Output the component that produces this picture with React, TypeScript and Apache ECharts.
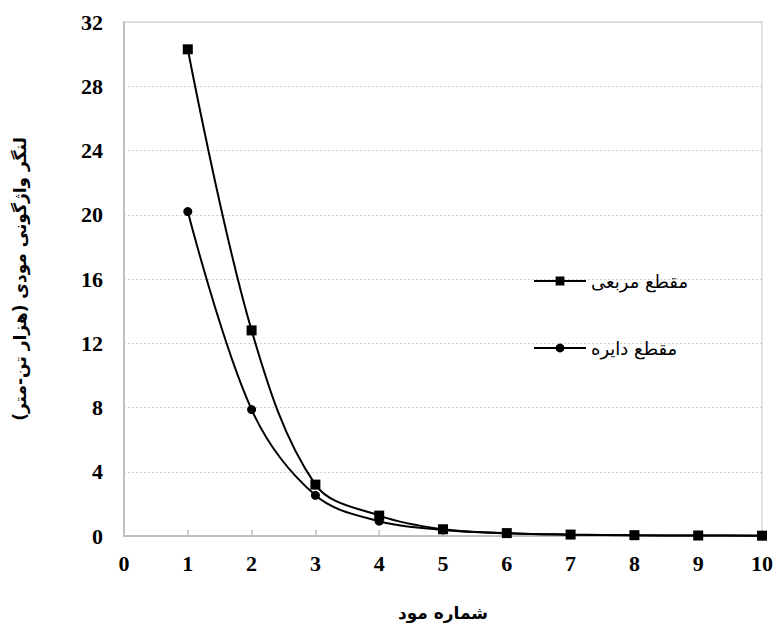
import React, { useEffect, useRef } from "react";
import * as echarts from "echarts";

const modes = [1, 2, 3, 4, 5, 6, 7, 8, 9, 10];
const squareValues = [30.3, 12.8, 3.2, 1.27, 0.42, 0.18, 0.09, 0.05, 0.03, 0.02];
const circleValues = [20.2, 7.87, 2.53, 0.92, 0.38, 0.17, 0.08, 0.05, 0.03, 0.02];
const squareName = "مقطع مربعی";
const circleName = "مقطع دایره";
const xTitle = "شماره مود";
const yTitle = "لنگر واژگونی مودی (هزار تن-متر)";

const serif = "Liberation Serif";
const arabic = "DejaVu Sans";

export default function App() {
  const ref = useRef<HTMLDivElement>(null);
  useEffect(() => {
    if (!ref.current) return;
    const chart = echarts.init(ref.current, null, { renderer: "svg" });
    chart.setOption({
      animation: false,
      backgroundColor: "#ffffff",
      grid: { left: 124, right: 13, top: 22, bottom: 82, show: true, borderColor: "#d9d9d9", borderWidth: 1.5 },
      legend: {
        left: 533,
        top: 272,
        padding: 0,
        orient: "vertical",
        itemWidth: 52,
        itemHeight: 11,
        itemGap: 49,
        textStyle: { fontFamily: arabic, fontSize: 18, color: "#000" },
        data: [squareName, circleName],
      },
      xAxis: {
        type: "value",
        min: 0,
        max: 10,
        interval: 1,
        name: xTitle,
        nameLocation: "middle",
        nameGap: 68,
        nameTextStyle: { fontFamily: arabic, fontWeight: "bold", fontSize: 17, color: "#000" },
        axisLine: { lineStyle: { color: "#bfbfbf", width: 2 } },
        axisTick: { show: true, inside: true, length: 6, lineStyle: { color: "#bfbfbf", width: 1.5 } },
        axisLabel: { fontFamily: serif, fontWeight: "bold", fontSize: 22, color: "#000", margin: 16 },
        splitLine: { show: false },
      },
      yAxis: {
        type: "value",
        min: 0,
        max: 32,
        interval: 4,
        name: yTitle,
        nameLocation: "middle",
        nameGap: 96,
        nameRotate: 90,
        nameTextStyle: { fontFamily: arabic, fontWeight: "bold", fontSize: 17, color: "#000" },
        axisLine: { show: true, lineStyle: { color: "#bfbfbf", width: 2 } },
        axisTick: { show: false },
        axisLabel: { fontFamily: serif, fontWeight: "bold", fontSize: 22, color: "#000", margin: 21 },
        splitLine: { show: true, lineStyle: { color: "#d0d0d0", type: [2, 2], width: 1 } },
      },
      series: [
        {
          name: squareName,
          type: "line",
          smooth: 0.35,
          data: modes.map((m, i) => [m, squareValues[i]]),
          symbol: "rect",
          symbolSize: 10,
          lineStyle: { color: "#000", width: 2 },
          itemStyle: { color: "#000" },
        },
        {
          name: circleName,
          type: "line",
          smooth: 0.35,
          data: modes.map((m, i) => [m, circleValues[i]]),
          symbol: "circle",
          symbolSize: 9,
          lineStyle: { color: "#000", width: 2 },
          itemStyle: { color: "#000" },
        },
      ],
    });
    return () => chart.dispose();
  }, []);
  return <div ref={ref} style={{ width: 776, height: 626, position: "absolute", left: 0, top: 0 }} />;
}
